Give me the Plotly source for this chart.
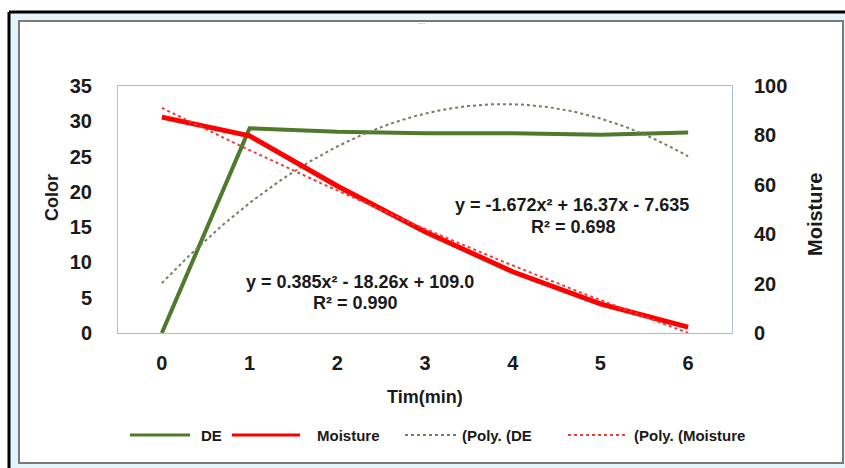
import numpy as np
import plotly.graph_objects as go

# ---- data ----
time_min = [0, 1, 2, 3, 4, 5, 6]
de_values = [0.0, 29.0, 28.5, 28.3, 28.3, 28.1, 28.4]
moisture_values = [87.4, 79.8, 59.5, 41.0, 24.8, 11.8, 2.4]
# trendline coefficients shown on the chart (Excel index x = category + 1)
de_poly = [-1.672, 16.37, -7.635]
moisture_poly = [0.385, -18.26, 109.0]
x_ticks = ["0", "1", "2", "3", "4", "5", "6"]
left_ticks = [0, 5, 10, 15, 20, 25, 30, 35]
right_ticks = [0, 20, 40, 60, 80, 100]
legend_names = ["DE", "Moisture", "(Poly. (DE", "(Poly. (Moisture"]

W, H = 845, 468
L, R, T, B = 118, 732, 86, 333

def px(xp):
    return (xp - L) / (R - L)

def py(yp):
    return (B - yp) / (B - T)

xs = np.linspace(0, 6, 121)
de_trend = np.polyval(de_poly, xs + 1)
mo_trend = np.polyval(moisture_poly, xs + 1)

styles = [dict(color="#4e7a2b", width=4), dict(color="#ff0000", width=5),
          dict(color="#6f8062", width=2, dash="dot"), dict(color="#e8403f", width=2, dash="dot")]

font = "Liberation Sans"
ink = "#1a1a1a"
fig = go.Figure()
fig.add_trace(go.Scatter(x=time_min, y=de_values, name=legend_names[0], mode="lines",
                         line=styles[0], yaxis="y"))
fig.add_trace(go.Scatter(x=time_min, y=moisture_values, name=legend_names[1], mode="lines",
                         line=styles[1], yaxis="y2"))
fig.add_trace(go.Scatter(x=xs, y=de_trend, name=legend_names[2], mode="lines",
                         line=styles[2], yaxis="y"))
fig.add_trace(go.Scatter(x=xs, y=mo_trend, name=legend_names[3], mode="lines",
                         line=styles[3], yaxis="y2"))

shapes = [
    dict(type="rect", xref="paper", yref="paper", x0=px(9), x1=px(850), y0=py(12), y1=py(475),
         fillcolor="#e3f5f9", line=dict(width=0), layer="below"),
    dict(type="rect", xref="paper", yref="paper", x0=px(19), x1=px(843), y0=py(21), y1=py(463),
         fillcolor="white", line=dict(color="#7a7a7a", width=2), layer="below"),
    dict(type="line", xref="paper", yref="paper", x0=px(9), x1=px(850), y0=py(12), y1=py(12),
         line=dict(color="black", width=3), layer="below"),
    dict(type="line", xref="paper", yref="paper", x0=px(9), x1=px(9), y0=py(12), y1=py(475),
         line=dict(color="black", width=3), layer="below"),
]

def txt(x, y, s, size, angle=0, xanchor="center"):
    return dict(x=px(x), y=py(y), xref="paper", yref="paper", showarrow=False,
                xanchor=xanchor, yanchor="middle", textangle=angle,
                text="<b>%s</b>" % s, font=dict(family=font, size=size, color=ink))

annotations = [
    txt(572, 205, "y = -1.672x² + 16.37x - 7.635", 18),
    txt(573, 227, "R² = 0.698", 18),
    txt(360, 282, "y = 0.385x² - 18.26x + 109.0", 18),
    txt(355, 303, "R² = 0.990", 18),
    txt(52, 198, "Color", 18, angle=-90),
    txt(815, 215, "Moisture", 20, angle=-90),
    txt(425, 397, "Tim(min)", 18),
    dict(x=px(422), y=py(17), xref="paper", yref="paper", showarrow=False,
         text="····", font=dict(size=7, color="#777")),
]

# custom legend (line samples + labels) matching the reference placement
leg_y = 435
leg_items = [(130, 190, 199), (232, 300, 315), (405, 457, 460), (568, 628, 632)]
for name, st, (a, b, tx) in zip(legend_names, styles, leg_items):
    if "dash" in st:
        ln = dict(color=st["color"], width=2, dash="dot")
    else:
        ln = dict(color=st["color"], width=3)
    shapes.append(dict(type="line", xref="paper", yref="paper", x0=px(a), x1=px(b),
                       y0=py(leg_y), y1=py(leg_y), line=ln))
    annotations.append(txt(tx, leg_y, name, 15, xanchor="left"))

tickfont = dict(family=font, size=20, color=ink)
fig.update_layout(
    width=W, height=H,
    margin=dict(l=L, r=W - R, t=T, b=H - B),
    paper_bgcolor="white", plot_bgcolor="rgba(0,0,0,0)",
    showlegend=False,
    xaxis=dict(range=[-0.5, 6.5], tickmode="array", tickvals=time_min,
               ticktext=["<b>%s</b>" % t for t in x_ticks], tickfont=tickfont,
               showgrid=False, zeroline=False, showline=True, mirror=True,
               linecolor="#a9c0d6", linewidth=1, ticks="", ticklabelstandoff=12),
    yaxis=dict(range=[0, 35], tickmode="array", tickvals=left_ticks,
               ticktext=["<b>%d</b>" % v for v in left_ticks], tickfont=tickfont,
               showgrid=False, zeroline=False, showline=True, mirror=True,
               linecolor="#a9c0d6", linewidth=1, ticks="", ticklabelstandoff=21),
    yaxis2=dict(range=[0, 100], overlaying="y", side="right", tickmode="array",
                tickvals=right_ticks, ticktext=["<b>%d</b>" % v for v in right_ticks],
                tickfont=tickfont, showgrid=False, zeroline=False, showline=False,
                ticks="", ticklabelstandoff=21),
    shapes=shapes, annotations=annotations,
)

fig.write_html("out.html", config={"displayModeBar": False},
               post_script="document.body.style.margin='0px';document.body.style.padding='0px';")
